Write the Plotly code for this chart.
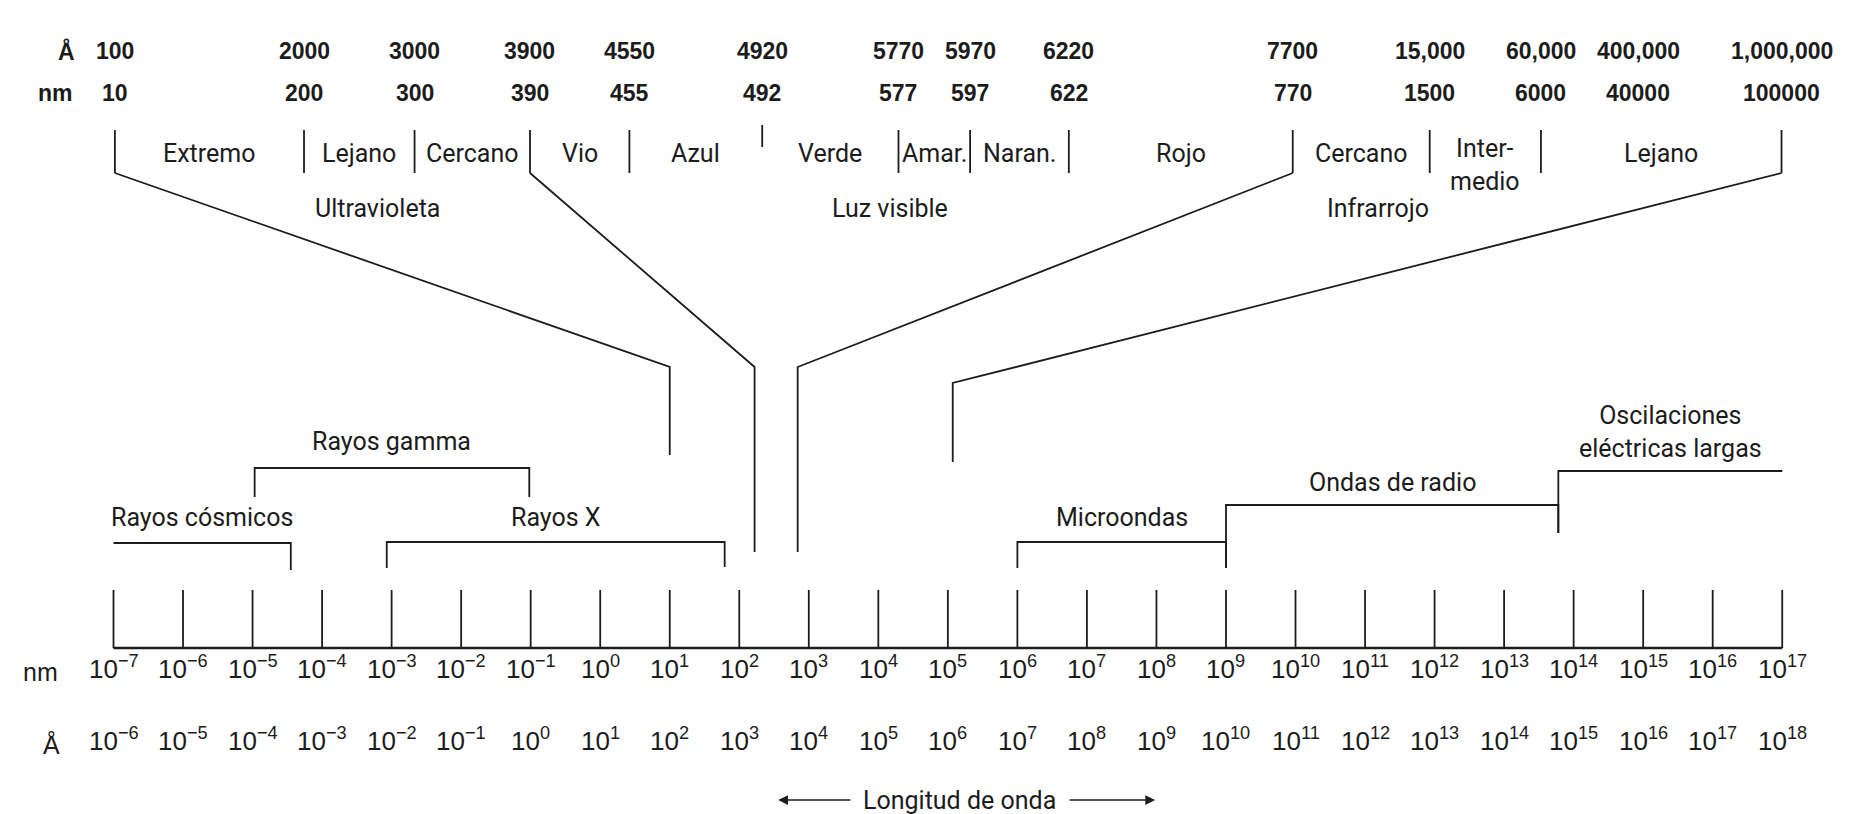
import plotly.graph_objects as go

# ---------------------------------------------------------------------------
# Main logarithmic wavelength scale (bottom): decades of nm and Å
# ---------------------------------------------------------------------------
nm_exponents = list(range(-7, 18))                    # 10^-7 ... 10^17 nm
angstrom_exponents = [e + 1 for e in nm_exponents]    # 1 nm = 10 Å

# ---------------------------------------------------------------------------
# Expanded scale (top): UV / visible / IR boundaries
# ---------------------------------------------------------------------------
detail_angstrom = ["100", "2000", "3000", "3900", "4550", "4920", "5770",
                   "5970", "6220", "7700", "15,000", "60,000", "400,000",
                   "1,000,000"]
detail_nm = ["10", "200", "300", "390", "455", "492", "577", "597", "622",
             "770", "1500", "6000", "40000", "100000"]
# position of each boundary on the expanded (schematic) scale, in decade units
detail_x = [-6.98, -4.26, -2.67, -1.01, 0.42, 2.33, 4.29, 5.32, 6.74, 9.96,
            11.93, 13.53, 14.93, 16.99]
# boundaries that carry a divider tick (40000 nm is only labelled)
detail_divider = [True, True, True, True, True, True, True, True, True, True,
                  True, True, False, True]
sub_bands = ["Extremo", "Lejano", "Cercano", "Vio", "Azul", "Verde", "Amar.",
             "Naran.", "Rojo", "Cercano", "Inter-<br>medio", "Lejano"]
groups = ["Ultravioleta", "Luz visible", "Infrarrojo"]
group_x = [-3.2, 4.17, 11.19]

# connectors: expanded-scale boundary index -> point on the main scale
connector_from = [0, 3, 9, 13]
connector_to = [1.0, 2.22, 2.84, 5.07]

# ---------------------------------------------------------------------------
# Spectral regions on the main scale (log10 of nm)
# ---------------------------------------------------------------------------
regions = ["Rayos cósmicos", "Rayos gamma", "Rayos X", "Microondas",
           "Ondas de radio", "Oscilaciones<br>eléctricas largas"]
region_start = [-7.0, -4.97, -3.07, 6.0, 9.0, 13.78]
region_end = [-4.45, -1.02, 1.79, 9.0, 13.78, 17.0]

# ---------------------------------------------------------------------------
# Layout constants (vertical positions in screen pixels, top = 0)
# ---------------------------------------------------------------------------
W, H = 1857, 814
PX0, PX_PER_DEC, DEC0 = 113.5, 69.53, -7       # x of 10^-7 nm and decade size
X_RANGE = [DEC0 - PX0 / PX_PER_DEC, DEC0 + (W - PX0) / PX_PER_DEC]

INK = "#1c1c1c"
LW = 1.8
NUM_FONT = "Liberation Sans, Arial, sans-serif"
TXT_FONT = "Roboto, Liberation Sans, Arial, sans-serif"
TXT_SIZE = 25

Y_TOP_A, Y_TOP_NM = 51, 93
Y_DIV = (130, 173)
Y_DIV_SHORT = (125, 147)
Y_SUB = 153
Y_GROUP = 208
CONN_CORNER = [367, 367, 367, 383]
CONN_BOTTOM = [455, 552, 552, 462]
REGION_STYLE = [  # (bar y, left drop, right drop, label y)
    (543, None, 570, 517),
    (468, 497, 497, 441),
    (542, 568, 567, 517),
    (542, 568, 568, 517),
    (505, 568, 533, 482),
    (471, 533, None, 432),
]
Y_TICK = (590, 648)
Y_LAB_NM, Y_LAB_A = 667, 739
Y_ARROW = 800

fig = go.Figure()
ann = []


def seg(xs, ys, width=LW):
    fig.add_trace(go.Scatter(x=xs, y=ys, mode="lines",
                             line=dict(color=INK, width=width),
                             hoverinfo="skip", showlegend=False))


def text(x, y, s, size, font=TXT_FONT, xanchor="center", weight=None):
    f = dict(family=font, size=size, color=INK)
    if weight:
        f["weight"] = weight
    ann.append(dict(x=x, y=y, text=s, showarrow=False, xanchor=xanchor,
                    yanchor="middle", font=f, xref="x", yref="y"))


def power(e):
    return f"10<sup>{str(e).replace('-', '−')}</sup>"


# ---- main scale: baseline, ticks, labels ----------------------------------
seg([nm_exponents[0], nm_exponents[-1]], [Y_TICK[1], Y_TICK[1]], width=2.4)
for e_nm, e_a in zip(nm_exponents, angstrom_exponents):
    seg([e_nm, e_nm], list(Y_TICK))
    text(e_nm, Y_LAB_NM, power(e_nm), 26, NUM_FONT)
    text(e_nm, Y_LAB_A, power(e_a), 26, NUM_FONT)
text(nm_exponents[0] - 0.77, Y_LAB_NM + 5, "nm", 25, NUM_FONT, "right")
text(nm_exponents[0] - 0.74, Y_LAB_A + 5, "Å", 25, NUM_FONT, "right")

# ---- expanded scale: values, dividers, band names --------------------------
text(detail_x[0] - 0.55, Y_TOP_A, "Å", 23, NUM_FONT, "right", 600)
text(detail_x[0] - 0.57, Y_TOP_NM, "nm", 23, NUM_FONT, "right", 600)
for x, a, n, d, in zip(detail_x, detail_angstrom, detail_nm, detail_divider):
    text(x, Y_TOP_A, a, 23, NUM_FONT, weight=600)
    text(x, Y_TOP_NM, n, 23, NUM_FONT, weight=600)
    if d:
        y0, y1 = Y_DIV_SHORT if a == "4920" else Y_DIV
        seg([x, x], [y0, y1])

div_x = [x for x, d in zip(detail_x, detail_divider) if d]
for name, xa, xb in zip(sub_bands, div_x[:-1], div_x[1:]):
    yy = Y_SUB + 12 if "<br>" in name else Y_SUB
    text((xa + xb) / 2, yy, name, TXT_SIZE)
for name, x in zip(groups, group_x):
    text(x, Y_GROUP, name, TXT_SIZE)

# ---- connectors from the expanded scale down to the main scale -------------
for i, xt, yc, yb in zip(connector_from, connector_to, CONN_CORNER,
                         CONN_BOTTOM):
    seg([detail_x[i], xt, xt], [Y_DIV[1], yc, yb])

# ---- spectral regions (brackets) --------------------------------------------
for name, xa, xb, (yb, dl, dr, yl) in zip(regions, region_start, region_end,
                                         REGION_STYLE):
    xs, ys = [xa, xb], [yb, yb]
    if dl is not None:
        xs, ys = [xa] + xs, [dl] + ys
    if dr is not None:
        xs, ys = xs + [xb], ys + [dr]
    seg(xs, ys)
    text((xa + xb) / 2, yl, name, TXT_SIZE)

# ---- "Longitud de onda" arrows ---------------------------------------------
text(5.17, Y_ARROW, "Longitud de onda", TXT_SIZE)
for head, tail in [(2.56, 3.62), (7.98, 6.73)]:
    ann.append(dict(x=head, y=Y_ARROW, ax=tail, ay=Y_ARROW, xref="x",
                    yref="y", axref="x", ayref="y", text="", showarrow=True,
                    arrowhead=2, arrowsize=1.3, arrowwidth=1.5,
                    arrowcolor=INK))

fig.update_layout(
    width=W, height=H, margin=dict(l=0, r=0, t=0, b=0),
    paper_bgcolor="white", plot_bgcolor="white",
    xaxis=dict(range=X_RANGE, visible=False, fixedrange=True),
    yaxis=dict(range=[H, 0], visible=False, fixedrange=True),
    annotations=ann, showlegend=False,
)
fig.write_html("out.html")
